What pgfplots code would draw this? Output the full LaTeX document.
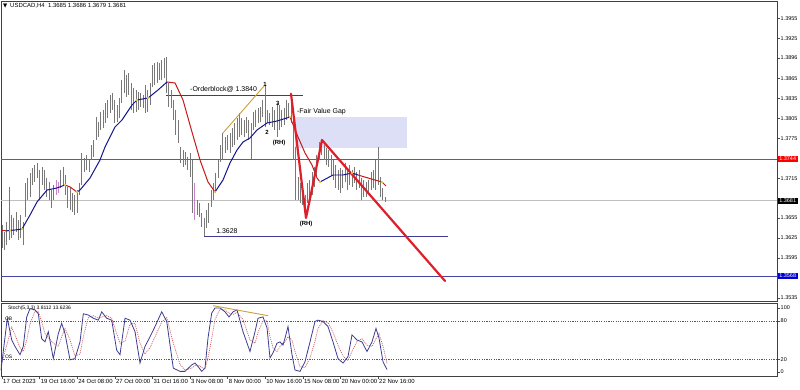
\documentclass[border=0pt]{standalone}
\usepackage{pgfplots}
\pgfplotsset{compat=1.18}
\usepackage{pgfplotstable}
\usepackage{fontspec}
\setmainfont{Liberation Sans}
\newfontfamily\djv{DejaVu Sans}

\definecolor{barcol}{RGB}{120,120,120}
\definecolor{purplebar}{RGB}{200,130,200}
\definecolor{fvg}{RGB}{221,223,246}
\definecolor{resline}{RGB}{190,60,60}
\definecolor{curline}{RGB}{192,192,192}
\definecolor{supline}{RGB}{70,70,165}
\definecolor{lowline}{RGB}{60,60,150}
\definecolor{obline}{RGB}{155,30,30}
\definecolor{mablue}{RGB}{20,20,140}
\definecolor{mared}{RGB}{195,25,25}
\definecolor{mayel}{RGB}{235,215,60}
\definecolor{zz}{RGB}{222,30,40}
\definecolor{orangeline}{RGB}{200,160,60}
\definecolor{kcol}{RGB}{60,60,145}
\definecolor{dcol}{RGB}{205,90,90}

\pgfplotstableread{
i h l
0 1.3645 1.3610
1 1.3634 1.3607
2 1.3649 1.3615
3 1.3702 1.3622
4 1.3660 1.3625
5 1.3655 1.3630
6 1.3664 1.3634
7 1.3652 1.3622
8 1.3660 1.3625
9 1.3649 1.3615
10 1.3708 1.3657
11 1.3715 1.3682
12 1.3723 1.3687
13 1.3730 1.3705
14 1.3735 1.3709
15 1.3738 1.3715
16 1.3727 1.3682
17 1.3732 1.3705
18 1.3727 1.3697
19 1.3715 1.3687
20 1.3709 1.3682
21 1.3697 1.3670
22 1.3705 1.3682
23 1.3712 1.3690
24 1.3709 1.3693
25 1.3727 1.3700
26 1.3732 1.3705
27 1.3720 1.3690
28 1.3702 1.3670
29 1.3700 1.3667
30 1.3693 1.3664
31 1.3690 1.3660
32 1.3697 1.3663
33 1.3708 1.3690
34 1.3753 1.3705
35 1.3745 1.3724
36 1.3750 1.3727
37 1.3742 1.3724
38 1.3765 1.3742
39 1.3772 1.3747
40 1.3807 1.3772
41 1.3800 1.3777
42 1.3815 1.3788
43 1.3818 1.3790
44 1.3828 1.3798
45 1.3833 1.3806
46 1.3840 1.3813
47 1.3843 1.3818
48 1.3833 1.3798
49 1.3825 1.3800
50 1.3836 1.3806
51 1.3863 1.3828
52 1.3878 1.3843
53 1.3870 1.3837
54 1.3873 1.3840
55 1.3858 1.3818
56 1.3851 1.3813
57 1.3848 1.3815
58 1.3845 1.3818
59 1.3843 1.3822
60 1.3840 1.3821
61 1.3855 1.3813
62 1.3848 1.3815
63 1.3858 1.3825
64 1.3885 1.3852
65 1.3888 1.3855
66 1.3890 1.3858
67 1.3888 1.3863
68 1.3893 1.3863
69 1.3896 1.3866
70 1.3897 1.3843
71 1.3858 1.3822
72 1.3848 1.3821
73 1.3833 1.3803
74 1.3818 1.3780
75 1.3803 1.3768
76 1.3762 1.3738
77 1.3757 1.3732
78 1.3754 1.3735
79 1.3747 1.3727
80 1.3753 1.3717
81 1.3742 1.3663
82 1.3708 1.3652
83 1.3682 1.3660
84 1.3678 1.3657
85 1.3663 1.3642
86 1.3655 1.3628
87 1.3667 1.3640
88 1.3678 1.3648
89 1.3697 1.3672
90 1.3708 1.3682
91 1.3723 1.3693
92 1.3742 1.3715
93 1.3765 1.3739
94 1.3783 1.3742
95 1.3777 1.3753
96 1.3780 1.3757
97 1.3783 1.3753
98 1.3790 1.3762
99 1.3798 1.3765
100 1.3806 1.3772
101 1.3813 1.3777
102 1.3806 1.3780
103 1.3803 1.3777
104 1.3807 1.3783
105 1.3803 1.3772
106 1.3798 1.3744
107 1.3815 1.3788
108 1.3818 1.3792
109 1.3821 1.3798
110 1.3822 1.3800
111 1.3833 1.3807
112 1.3855 1.3792
113 1.3818 1.3798
114 1.3813 1.3795
115 1.3822 1.3792
116 1.3818 1.3788
117 1.3828 1.3777
118 1.3825 1.3788
119 1.3818 1.3792
120 1.3821 1.3795
121 1.3833 1.3803
122 1.3828 1.3806
123 1.3840 1.3798
124 1.3818 1.3742
125 1.3762 1.3682
126 1.3717 1.3682
127 1.3708 1.3678
128 1.3705 1.3675
129 1.3690 1.3655
130 1.3708 1.3678
131 1.3712 1.3682
132 1.3724 1.3690
133 1.3732 1.3702
134 1.3750 1.3717
135 1.3769 1.3742
136 1.3772 1.3750
137 1.3765 1.3742
138 1.3760 1.3735
139 1.3757 1.3732
140 1.3750 1.3720
141 1.3742 1.3712
142 1.3735 1.3700
143 1.3727 1.3697
144 1.3730 1.3693
145 1.3727 1.3700
146 1.3738 1.3709
147 1.3730 1.3697
148 1.3735 1.3705
149 1.3727 1.3702
150 1.3732 1.3708
151 1.3724 1.3697
152 1.3727 1.3700
153 1.3715 1.3682
154 1.3712 1.3687
155 1.3709 1.3687
156 1.3712 1.3690
157 1.3724 1.3697
158 1.3727 1.3700
159 1.3742 1.3697
160 1.3762 1.3705
161 1.3717 1.3687
162 1.3700 1.3682
163 1.3686 1.3679
}\bars

\pgfplotstableread{
i h l
23 1.3712 1.3690
24 1.3709 1.3693
82 1.3708 1.3652
}\pbars

\pgfplotstableread{
b k d
-0.43 3 10
2.26 84 45
4.13 50 70
5.53 40 58
7.66 27 38
9.06 40 32
10.51 86 50
11.91 99 75
14.04 97 95
15.45 91 95
16.89 52 78
18.30 47 60
19.70 63 54
21.83 21 45
23.96 60 40
25.40 76 55
26.81 60 68
28.94 19 50
31.06 21 25
33.19 47 28
34.60 91 55
36.72 89 85
38.85 84 88
40.98 81 84
42.43 94 86
44.55 84 88
46.68 81 84
48.81 34 60
50.21 27 45
52.34 84 48
54.47 81 75
56.60 63 76
58.72 14 45
60.85 40 28
62.98 55 38
65.11 71 55
67.96 94 78
70.09 79 85
72.89 6 45
75.74 1 12
77.87 1 3
80.72 11 6
82.13 14 10
83.53 8 11
84.98 1 7
86.38 6 5
87.66 53 22
89.23 92 52
90.64 100 82
92.77 100 98
94.89 94 97
96.60 86 92
98.30 94 90
100.00 97 93
102.55 63 82
105.53 32 50
107.66 63 45
108.94 84 62
111.06 86 80
112.77 69 80
114.04 22 55
115.32 30 38
117.02 45 32
118.30 47 40
119.57 42 45
120.43 53 47
121.70 71 55
123.40 27 50
124.68 3 32
126.81 1 8
128.94 16 7
131.06 47 22
133.19 79 48
134.47 81 68
136.60 79 80
138.72 71 77
140.85 47 62
142.98 21 42
145.11 14 25
147.23 24 18
148.94 58 32
151.06 50 48
153.19 47 52
155.32 32 42
157.45 47 40
159.15 68 52
160.43 53 60
162.13 16 40
163.83 3.8 13.6
}\stoch

\newcommand{\tk}{\fontsize{5.5}{6}\selectfont}

\begin{document}
\begin{tikzpicture}
\path[use as bounding box] (0,0) rectangle (800bp,390bp);

% ---------------- main price panel ----------------
\begin{axis}[
  at={(1bp,89bp)}, anchor=south west,
  scale only axis, width=776bp, height=300bp,
  xmin=-0.43, xmax=329.79, ymin=1.35303, ymax=1.39815,
  clip=false,
  axis line style={black!75, line width=0.6pt},
  xtick=\empty,
  ytick={1.3955,1.3925,1.3896,1.3865,1.3835,1.3805,1.3775,1.3715,1.3655,1.3625,1.3595,1.3535},
  yticklabels={1.3955,1.3925,1.3896,1.3865,1.3835,1.3805,1.3775,1.3715,1.3655,1.3625,1.3595,1.3535},
  ytick pos=right, yticklabel pos=right,
  tick align=outside, major tick length=2.5bp,
  tick style={black!70, line width=0.4pt},
  yticklabel style={font=\tk, inner sep=1bp, anchor=west},
]
% fair value gap
\addplot[fill=fvg, draw=none, forget plot] coordinates {(124.7,1.37604) (172.3,1.37604) (172.3,1.3807) (124.7,1.3807)} -- cycle;
% horizontal levels
\addplot[resline, line width=0.7pt] coordinates {(-0.43,1.3744) (329.79,1.3744)};
\addplot[curline, line width=0.7pt] coordinates {(-0.43,1.3681) (329.79,1.3681)};
\addplot[supline, line width=0.7pt] coordinates {(-0.43,1.3568) (329.79,1.3568)};
\addplot[obline, line width=0.9pt] coordinates {(69.8,1.3840) (128.1,1.3840)};
\addplot[lowline, line width=0.8pt] coordinates {(86.0,1.3628) (189.8,1.3628)};
% price bars (high-low ranges)
\addplot[draw=none, no markers,
  error bars/.cd, y dir=minus, y explicit, error mark=none,
  error bar style={draw=barcol, solid, line width=0.9pt}]
  table[x=i, y=h, y error minus expr={\thisrow{h}-\thisrow{l}}] {\bars};
\addplot[draw=none, no markers,
  error bars/.cd, y dir=minus, y explicit, error mark=none,
  error bar style={draw=purplebar, solid, line width=0.9pt}]
  table[x=i, y=h, y error minus expr={\thisrow{h}-\thisrow{l}}] {\pbars};
% coloured moving average
\addplot[mared, line width=1pt] coordinates {(-0.43,1.36356) (1.28,1.36356)};
\addplot[mablue, line width=1pt] coordinates {(1.28,1.36356) (5.53,1.36371) (8.51,1.36386) (11.91,1.36596) (14.89,1.36792) (19.15,1.36972) (23.40,1.37003) (26.81,1.37048)};
\addplot[mared, line width=1pt] coordinates {(26.81,1.37048) (28.94,1.37018) (31.91,1.36942)};
\addplot[mablue, line width=1pt] coordinates {(31.91,1.36942) (33.19,1.36972) (37.45,1.37153) (41.70,1.37424) (43.83,1.37619) (48.09,1.37920) (51.06,1.38025) (55.32,1.38251) (57.45,1.38326) (62.13,1.38356) (66.38,1.38476) (70.21,1.38597)};
\addplot[mared, line width=1pt] coordinates {(70.21,1.38597) (73.62,1.38582) (77.02,1.38326) (80.0,1.37950) (84.26,1.37424) (87.66,1.37093) (90.64,1.36942)};
\addplot[mablue, line width=1pt] coordinates {(90.64,1.36942) (94.04,1.37123) (97.02,1.37379) (100.0,1.37574) (102.55,1.37694) (105.53,1.37754) (108.51,1.37875) (112.77,1.37980) (117.02,1.38010) (122.55,1.38070)};
\addplot[mared, line width=1pt] coordinates {(122.55,1.38070) (125.96,1.37770) (128.94,1.37529) (131.91,1.37348) (134.04,1.37153) (135.32,1.37093)};
\addplot[mablue, line width=1pt] coordinates {(135.32,1.37093) (140.85,1.37198) (145.11,1.37198) (148.94,1.37228) (151.49,1.37198)};
\addplot[mared, line width=1pt] coordinates {(151.49,1.37198) (155.74,1.37153) (158.72,1.37123) (161.70,1.37093) (163.40,1.37033)};
\addplot[only marks, mark=*, mark size=0.8pt, mayel, mark options={draw=mayel}] coordinates {(3.5,1.36362) (8.51,1.36386) (26.81,1.37048) (31.91,1.36942) (57.45,1.38326) (62.13,1.38356) (90.64,1.36942) (122.55,1.38070) (135.32,1.37093) (148.94,1.37228) (161.70,1.37093)};
% drawings
\addplot[orangeline, line width=0.9pt] coordinates {(94.04,1.3783) (111.91,1.38552)};
\addplot[zz, line width=2.2pt, line join=round, line cap=round] coordinates {(122.98,1.3842) (129.36,1.36551) (136.17,1.37724) (188.51,1.35604)};
% text
\node[anchor=west, font=\fontsize{7}{8}\selectfont, inner sep=0pt] at (axis cs:80.0,1.38491) {-Orderblock@ 1.3840};
\node[anchor=west, font=\fontsize{7}{8}\selectfont, inner sep=0pt] at (axis cs:125.5,1.38146) {-Fair Value Gap};
\node[anchor=west, font=\fontsize{7}{8}\selectfont, inner sep=0pt] at (axis cs:91.1,1.36356) {1.3628};
\node[font=\fontsize{6}{7}\selectfont\bfseries, inner sep=0pt] at (axis cs:111.9,1.38567) {1};
\node[font=\fontsize{6}{7}\selectfont\bfseries, inner sep=0pt] at (axis cs:117.4,1.38281) {3};
\node[font=\fontsize{6}{7}\selectfont\bfseries, inner sep=0pt] at (axis cs:112.8,1.37845) {2};
\node[font=\fontsize{6}{7}\selectfont\bfseries, inner sep=0pt] at (axis cs:117.9,1.37679) {(RH)};
\node[font=\fontsize{6}{7}\selectfont\bfseries, inner sep=0pt] at (axis cs:129.4,1.36461) {(RH)};
\node[anchor=west, font=\fontsize{5.5}{6}\selectfont\djv, inner sep=0pt] at (axis cs:0.4,1.3974) {▼};
\node[anchor=west, font=\fontsize{6}{7}\selectfont, inner sep=0pt] at (axis cs:3.4,1.3974) {USDCAD,H4\ \ 1.3685 1.3686 1.3679 1.3681};
% price boxes
\node[anchor=west, fill=red, text=white, font=\tk, inner sep=1bp, minimum width=20bp, xshift=0.5bp] at (axis cs:329.79,1.3744) {1.3744};
\node[anchor=west, fill=black, text=white, font=\tk, inner sep=1bp, minimum width=20bp, xshift=0.5bp] at (axis cs:329.79,1.3681) {1.3681};
\node[anchor=west, fill={rgb,255:red,0;green,0;blue,215}, text=white, font=\tk, inner sep=1bp, minimum width=20bp, xshift=0.5bp] at (axis cs:329.79,1.3568) {1.3568};
\end{axis}

% ---------------- stochastic panel ----------------
\begin{axis}[
  at={(1bp,14bp)}, anchor=south west,
  scale only axis, width=776bp, height=73bp,
  xmin=-0.43, xmax=329.79, ymin=-6.25, ymax=107.8,
  clip=false,
  axis line style={black!75, line width=0.6pt},
  xtick={0,16,32,48,64,80,96,112,128,144,160},
  xticklabels={17 Oct 2023,19 Oct 16:00,24 Oct 08:00,27 Oct 00:00,31 Oct 16:00,3 Nov 08:00,8 Nov 00:00,10 Nov 16:00,15 Nov 08:00,20 Nov 00:00,22 Nov 16:00},
  xtick pos=bottom,
  xticklabel style={anchor=north west, font=\fontsize{6}{7}\selectfont, inner sep=1bp},
  ytick={0,20,80,100}, yticklabels={0,20,80,100},
  ytick pos=right, yticklabel pos=right,
  tick align=outside, major tick length=2.5bp,
  tick style={black!70, line width=0.4pt},
  yticklabel style={font=\tk, inner sep=1bp, anchor=west},
]
\addplot[black!65, line width=0.5pt, dash pattern=on 1.2pt off 1.2pt] coordinates {(-0.43,80) (329.79,80)};
\addplot[black!65, line width=0.5pt, dash pattern=on 1.2pt off 1.2pt] coordinates {(-0.43,20) (329.79,20)};
\addplot[dcol, line width=0.7pt, dash pattern=on 1pt off 1pt] table[x=b, y=d] {\stoch};
\addplot[kcol, line width=0.8pt] table[x=b, y=k] {\stoch};
\addplot[orangeline, line width=0.9pt] coordinates {(89.8,103.6) (113.2,88)};
\node[anchor=west, font=\fontsize{5}{6}\selectfont, inner sep=0pt] at (axis cs:2.5,99) {Stoch(5,3,3) 3.8112 13.6236};
\node[anchor=south west, font=\fontsize{5}{6}\selectfont, inner sep=0.5pt] at (axis cs:1,80) {OB};
\node[anchor=south west, font=\fontsize{5}{6}\selectfont, inner sep=0.5pt] at (axis cs:1,20) {OS};
\end{axis}
\end{tikzpicture}
\end{document}
